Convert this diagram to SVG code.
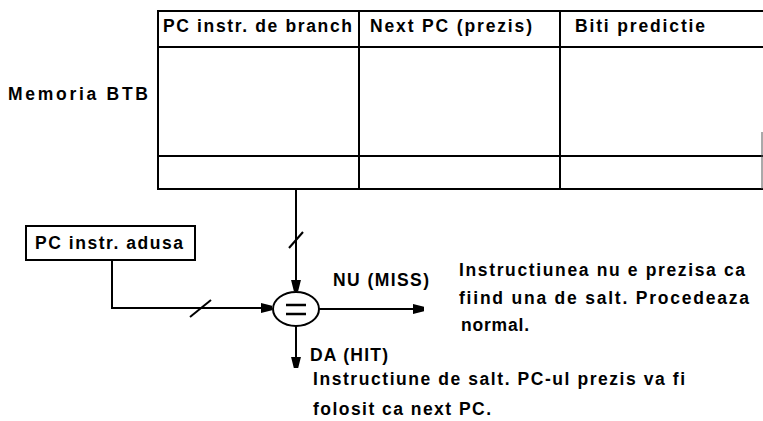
<svg xmlns="http://www.w3.org/2000/svg" width="763" height="421" viewBox="0 0 763 421">
  <style>
    .t { font-family: "Liberation Sans", Arial, sans-serif; font-weight: bold; font-size: 17.5px; fill: #000; }
    .grid { stroke: #000; stroke-width: 2; fill: none; }
    .wire { stroke: #000; stroke-width: 2; fill: none; }
  </style>
  <defs>
    <marker id="head" viewBox="0 0 10 10" refX="10" refY="5" markerWidth="5.5" markerHeight="5.5" markerUnits="strokeWidth" orient="auto">
      <path d="M0,0.5 L10,3 L10,7 L0,9.5 Z" fill="#000"/>
    </marker>
  </defs>

  <rect width="763" height="421" fill="#fff"/>

  <!-- BTB memory table -->
  <g id="btb">
    <text class="t" x="8" y="100" textLength="140" lengthAdjust="spacing">Memoria  BTB</text>
    <path class="grid" d="M157,11 H763 M157,47 H763 M157,156 H763 M157,189 H763 M158,11 V189 M359,11 V189 M560,11 V189"/>
    <path d="M762,132 V189" stroke="#555" stroke-width="1" fill="none"/>
    <text class="t" x="163" y="32" textLength="189" lengthAdjust="spacing">PC instr. de branch</text>
    <text class="t" x="370" y="32" textLength="162" lengthAdjust="spacing">Next  PC (prezis)</text>
    <text class="t" x="575" y="32" textLength="130" lengthAdjust="spacing">Biti  predictie</text>
  </g>

  <!-- fetched PC register -->
  <g id="pc-adusa">
    <rect x="26" y="226" width="169" height="34" fill="#fff" stroke="#000" stroke-width="2"/>
    <text class="t" x="35" y="249" textLength="148" lengthAdjust="spacing">PC instr. adusa</text>
  </g>

  <!-- equality comparator -->
  <g id="comparator">
    <ellipse cx="296" cy="309" rx="23" ry="17" fill="#fff" stroke="#000" stroke-width="2"/>
    <path d="M286,305 H306 M286,314 H306" stroke="#000" stroke-width="2.5"/>
  </g>

  <!-- connectors -->
  <g id="connectors">
    <path class="wire" d="M296,189 V291" marker-end="url(#head)"/>
    <path class="wire" d="M289,248 L303,232"/>
    <path class="wire" d="M112,260 V308 H272" marker-end="url(#head)"/>
    <path class="wire" d="M190,317 L211,300"/>
    <path class="wire" d="M319,309 H424" marker-end="url(#head)"/>
    <path class="wire" d="M296,326 V368" marker-end="url(#head)"/>
  </g>

  <!-- outcome labels -->
  <g id="labels">
    <text class="t" x="333" y="286" textLength="96" lengthAdjust="spacing">NU (MISS)</text>
    <text class="t" x="459" y="276" textLength="286" lengthAdjust="spacing">Instructiunea nu e prezisa ca</text>
    <text class="t" x="459" y="304" textLength="290" lengthAdjust="spacing">fiind una de salt. Procedeaza</text>
    <text class="t" x="461" y="331" textLength="68" lengthAdjust="spacing">normal.</text>
    <text class="t" x="310" y="361" textLength="78" lengthAdjust="spacing">DA (HIT)</text>
    <text class="t" x="313" y="385" textLength="372" lengthAdjust="spacing">Instructiune de salt. PC-ul prezis va fi</text>
    <text class="t" x="313" y="415" textLength="178" lengthAdjust="spacing">folosit ca next PC.</text>
  </g>
</svg>
